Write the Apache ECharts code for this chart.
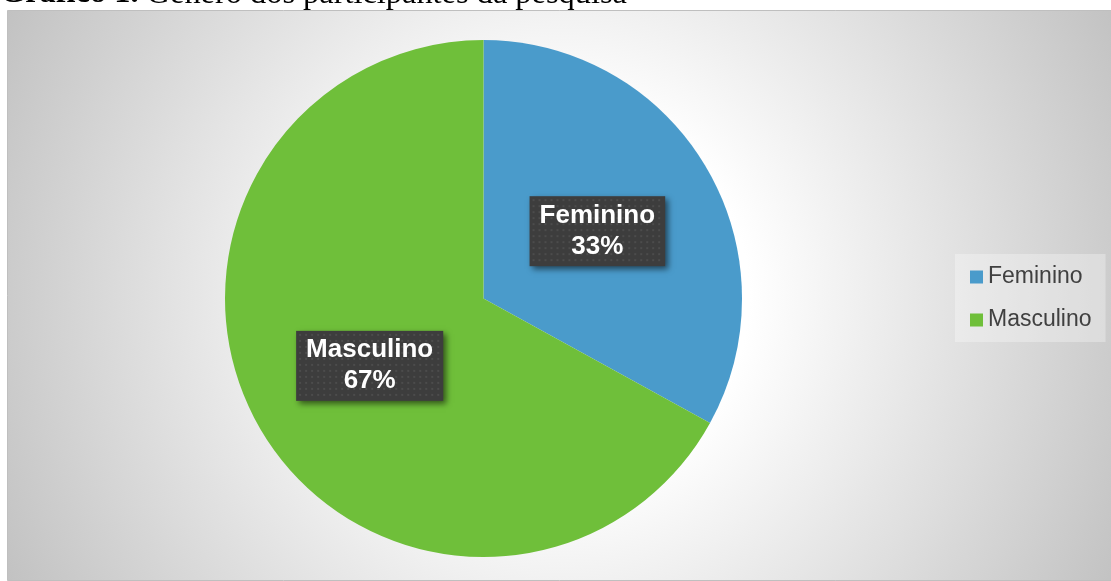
<!DOCTYPE html>
<html>
<head>
<meta charset="utf-8">
<script src="https://cdn.jsdelivr.net/npm/echarts@6/dist/echarts.min.js"></script>
<style>
  html, body { margin: 0; padding: 0; background: #ffffff; }
  #chart { width: 1111px; height: 581px; }
</style>
</head>
<body>
<div id="chart"></div>
<script>
// Participant gender split
const categories = ['Feminino', 'Masculino'];
const values = [33, 67];
const colors = ['#4a9bcb', '#6fbf3a'];
const captionLead = 'Gráfico 1.';
const captionText = 'Gênero dos participantes da pesquisa';

const LABEL_FONT = 'bold 26px "Liberation Sans"';
const LABEL_PAD = [4, 10, 4, 10];
const LABEL_LINE = 31;
const SHADOW_M = 12; // room round the label image for its drop shadow
const CAPTION_SIZE = 32.4;
const CAPTION_MID = -6; // caption line centre; the text sits just above the chart frame

// Dark data-label box with a faint dotted texture and a soft drop shadow
function dottedBox(lines) {
  const m = document.createElement('canvas').getContext('2d');
  m.font = LABEL_FONT;
  const tw = Math.max.apply(null, lines.map(t => m.measureText(t).width));
  const w = Math.round(tw + LABEL_PAD[1] + LABEL_PAD[3]);
  const h = lines.length * LABEL_LINE + LABEL_PAD[0] + LABEL_PAD[2];
  const c = document.createElement('canvas');
  c.width = w + 2 * SHADOW_M; c.height = h + 2 * SHADOW_M;
  const ctx = c.getContext('2d');
  ctx.translate(SHADOW_M, SHADOW_M);
  ctx.save();
  ctx.shadowColor = 'rgba(0,0,0,0.55)';
  ctx.shadowBlur = 6;
  ctx.shadowOffsetX = 3;
  ctx.shadowOffsetY = 3;
  ctx.fillStyle = '#3d3d3d';
  ctx.fillRect(0, 0, w, h);
  ctx.restore();
  ctx.fillStyle = '#4c4c4c';
  for (let y = 3; y < h - 1; y += 6) {
    for (let x = 3; x < w - 1; x += 6) ctx.fillRect(x, y, 2, 2);
  }
  return c;
}

function textWidth(font, t) {
  const m = document.createElement('canvas').getContext('2d');
  m.font = font;
  return m.measureText(t).width;
}
const leadWidth = textWidth('bold ' + CAPTION_SIZE + 'px "Liberation Serif"', captionLead + ' ');

const chart = echarts.init(document.getElementById('chart'), null, { renderer: 'canvas' });

const pieData = categories.map((name, i) => ({
  name: name,
  value: values[i],
  itemStyle: { color: colors[i] },
  label: { backgroundColor: { image: dottedBox([name, values[i] + '%']) } }
}));

chart.setOption({
  backgroundColor: '#ffffff',
  animation: false,
  graphic: [{
    type: 'text',
    z: 0,
    silent: true,
    x: 0,
    y: CAPTION_MID,
    style: {
      text: captionLead,
      fontFamily: 'Liberation Serif',
      fontSize: CAPTION_SIZE,
      fontWeight: 'bold',
      fill: '#000000',
      verticalAlign: 'middle'
    }
  }, {
    type: 'text',
    z: 0,
    silent: true,
    x: leadWidth,
    y: CAPTION_MID,
    style: {
      text: captionText,
      fontFamily: 'Liberation Serif',
      fontSize: CAPTION_SIZE,
      fontWeight: 'normal',
      fill: '#000000',
      verticalAlign: 'middle'
    }
  }, {
    type: 'rect',
    z: 1,
    silent: true,
    shape: { x: 7.5, y: 10.5, width: 1110, height: 570 },
    style: {
      fill: {
        type: 'radial',
        x: 0.5, y: 0.5, r: 1.09,
        colorStops: [
          { offset: 0, color: '#ffffff' },
          { offset: 0.3, color: '#ffffff' },
          { offset: 1, color: '#c2c2c2' }
        ]
      },
      stroke: '#bfbfbf',
      lineWidth: 1
    }
  }],
  legend: {
    orient: 'vertical',
    left: 955,
    top: 254,
    padding: [11.5, 14, 10.5, 15],
    itemWidth: 13,
    itemHeight: 13,
    itemGap: 20,
    icon: 'rect',
    backgroundColor: 'rgba(255,255,255,0.3)',
    textStyle: { fontFamily: 'Liberation Sans', fontSize: 23, color: '#404040' },
    data: categories
  },
  series: [{
    type: 'pie',
    center: [483.5, 298.5],
    radius: 258.5,
    startAngle: 90,
    clockwise: true,
    silent: true,
    itemStyle: { borderWidth: 0 },
    label: {
      show: true,
      position: 'inside',
      formatter: p => p.name + '\n' + p.value + '%',
      fontFamily: 'Liberation Sans',
      fontSize: 26,
      fontWeight: 'bold',
      lineHeight: LABEL_LINE,
      color: '#ffffff',
      align: 'center',
      padding: LABEL_PAD.map(p => p + SHADOW_M)
    },
    labelLine: { show: false },
    data: pieData
  }]
});
</script>
</body>
</html>
